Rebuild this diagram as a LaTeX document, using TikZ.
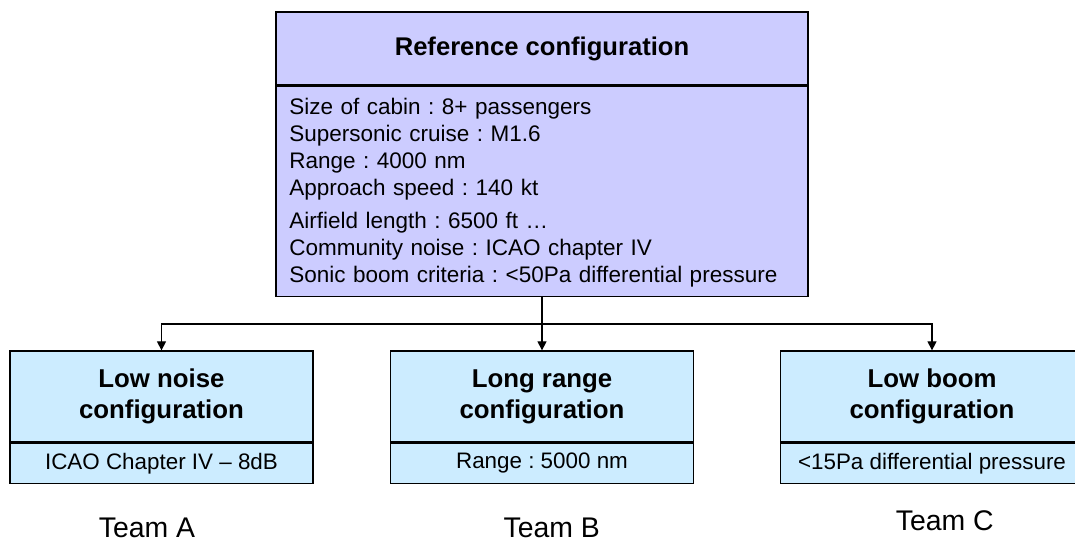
\documentclass[tikz,border=0pt]{standalone}
\usepackage{fontspec}
\setmainfont{Liberation Sans}
\usepackage{xcolor}
\usetikzlibrary{arrows.meta,calc}
\definecolor{refviolet}{RGB}{204,204,255}
\definecolor{teamblue}{RGB}{204,236,255}
\frenchspacing

\begin{document}
\begin{tikzpicture}[x=0.5pt,y=-0.5pt]
        \tikzstyle{box} = [draw=black,line width=0.65pt,inner sep=0pt]
        \tikzstyle{refhead} = [box,fill=refviolet,minimum width=266pt,minimum height=36.5pt,font=\bfseries\fontsize{12.8}{15}\selectfont]
        \tikzstyle{refbody} = [box,fill=refviolet,minimum width=266pt,minimum height=105pt]
        \tikzstyle{teamhead} = [box,fill=teamblue,minimum width=151.5pt,minimum height=45.5pt,align=center,font=\bfseries\fontsize{12.9}{15.5}\selectfont]
        \tikzstyle{teambody} = [box,fill=teamblue,minimum width=151.5pt,minimum height=20pt,font=\fontsize{11.2}{13.5}\selectfont]
        \tikzstyle{team} = [anchor=base,font=\fontsize{14.2}{17}\selectfont]
        \tikzstyle{link} = [line width=0.6pt,-{Triangle[length=4.5pt,width=4.5pt]}]
        %
        \useasboundingbox (0,0) rectangle (1075,542);
        % Reference configuration.
        \node[refhead] (ref) at (542,48.5) {Reference configuration};
        \node[refbody,anchor=north] (refspec) at (ref.south) {};
        \node[anchor=base west,text width=250pt,inner sep=0pt,align=left,font=\fontsize{11.25}{13.5}\selectfont] (reflist) at (289,114) {%
            Size of cabin : 8+ passengers\\
            Supersonic cruise : M1.6\\
            Range : 4000 nm\\
            Approach speed : 140 kt\\[3pt]
            Airfield length : 6500 ft \dots\\
            Community noise : ICAO chapter IV\\
            Sonic boom criteria : <50Pa differential pressure};
        % Team configurations.
        \node[teamhead] (noise) at (161.5,396.5) {Low noise\\configuration};
        \node[teambody,anchor=north] (noisespec) at (noise.south) {ICAO Chapter IV – 8dB};
        \node[teamhead] (range) at (542,396.5) {Long range\\configuration};
        \node[teambody,anchor=north] (rangespec) at (range.south) {Range : 5000 nm};
        \node[teamhead] (boom) at (932,396.5) {Low boom\\configuration};
        \node[teambody,anchor=north] (boomspec) at (boom.south) {<15Pa differential pressure};
        % Team names.
        \node[team] (teamA) at (147,537.7) {Team A};
        \node[team] (teamB) at (551.7,537.7) {Team B};
        \node[team] (teamC) at (944.7,530) {Team C};
        % Links.
        \coordinate (fork) at ($(refspec.south)+(0,27)$);
        \draw[link] (refspec.south) -- (range.north);
        \draw[link] (fork) -| (noise.north);
        \draw[link] (fork) -| (boom.north);
        %
\end{tikzpicture}
\end{document}
